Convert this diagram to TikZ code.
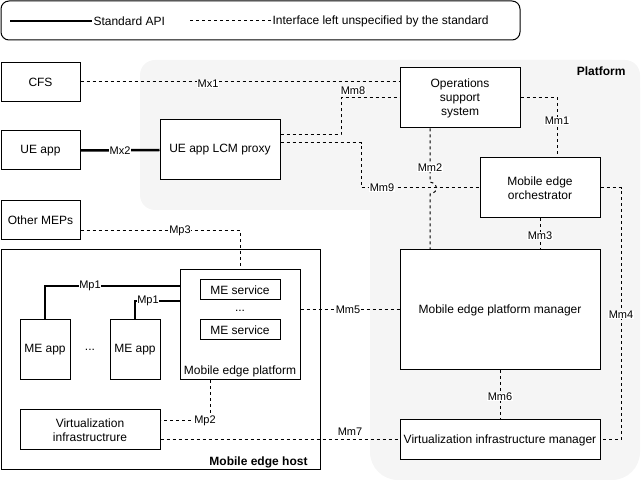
\documentclass[tikz,border=0pt]{standalone}
\usepackage{fontspec}
\setmainfont{Liberation Sans}
\usepackage{xcolor}
\usepackage{tikz}
\definecolor{platformgray}{RGB}{245, 245, 245}

\begin{document}
\begin{tikzpicture}[x=1pt, y=-1pt, line width=1pt,
            box/.style = {draw, fill=white, inner sep=0pt, align=center, font=\fontsize{12}{14}\selectfont},
            txt/.style = {inner sep=1pt, align=center, font=\fontsize{12}{14}\selectfont},
            lbl/.style = {fill=white, inner sep=0.5pt, font=\fontsize{11}{12}\selectfont},
            api/.style = {line width=2.5pt},
          iface/.style = {dash pattern=on 3pt off 3pt}]
        \useasboundingbox (0,0) rectangle (641,481);
        % platform area
        \fill[platformgray, rounded corners=15] (140,60) rectangle (640,210);
        \fill[platformgray, rounded corners=28] (370,60) rectangle (640,480);
        \node[txt, anchor=east, font=\fontsize{12}{14}\selectfont\bfseries] (platform) at (627,71) {Platform};
        % legend
        \node[draw, rounded corners=8, minimum width=519, minimum height=39] (legend) at (260.5,20.5) {};
        \node[txt, anchor=west] (stdapi) at (92,21) {Standard API};
        \node[txt, anchor=west] (unspec) at (271,21) {Interface left unspecified by the standard};
        \coordinate (stdstart) at (10,21);
        \coordinate (unspecstart) at (190,21);
        \draw[api] (stdstart) -- (stdapi.west);
        \draw[iface] (unspecstart) -- (unspec.west);
        % outside boxes
        \node[box, minimum width=79, minimum height=39] (cfs) at (40.5,82) {CFS};
        \node[box, minimum width=79, minimum height=39] (ueapp) at (40.5,150.5) {UE app};
        \node[box, minimum width=79, minimum height=39] (othermeps) at (40.5,220.5) {Other MEPs};
        % platform boxes
        \node[box, minimum width=120, minimum height=60] (lcm) at (220,150) {UE app LCM proxy};
        \node[box, minimum width=120, minimum height=60] (oss) at (460,98) {Operations\\support\\system};
        \node[box, minimum width=120, minimum height=60] (orch) at (540,188) {Mobile edge\\orchestrator};
        \node[box, minimum width=200, minimum height=120] (mepm) at (500,310) {Mobile edge platform manager};
        \node[box, minimum width=200, minimum height=40] (vim) at (500,440) {Virtualization infrastructure manager};
        % mobile edge host
        \node[box, minimum width=319, minimum height=220] (host) at (160.5,360) {};
        \node[txt, anchor=east, font=\fontsize{12}{14}\selectfont\bfseries] (hostname) at (309,462) {Mobile edge host};
        \node[box, minimum width=120, minimum height=110] (mep) at (240,325) {};
        \node[txt] (mepname) at (240,371) {Mobile edge platform};
        \node[box, minimum width=80, minimum height=20] (service1) at (240,290) {ME service};
        \node[txt] (servicedots) at (240,311) {...};
        \node[box, minimum width=80, minimum height=20] (service2) at (240,330) {ME service};
        \node[box, minimum width=50, minimum height=60] (app1) at (45,350) {ME app};
        \node[txt] (appdots) at (90,350) {...};
        \node[box, minimum width=50, minimum height=60] (app2) at (135,350) {ME app};
        \node[box, minimum width=140, minimum height=40] (vi) at (90,430) {Virtualization\\infrastructrure};
        % corners of the connectors
        \coordinate (c8) at (341,135);
        \coordinate (c9) at (361,143);
        \coordinate (c1) at (557,98);
        \coordinate (c4) at (621,188);
        \coordinate (hopa) at (430,182);
        \coordinate (hopb) at (430,194);
        \coordinate (p3) at (240,231);
        \coordinate (p1a) at (45,286);
        \coordinate (p1b) at (135,301);
        \coordinate (p2) at (210,421);
        % connectors
        \draw[iface] (cfs.east) -- (cfs.east -| oss.west);
        \draw[api] (ueapp.east) -- (lcm.west);
        \draw[iface] (lcm.east |- c8) -- (c8) -- (c8 |- oss.west) -- (oss.west);
        \draw[iface] (lcm.east |- c9) -- (c9) -- (c9 |- orch.west) -- (orch.west);
        \draw[iface] (oss.east) -- (c1) -- (c1 |- orch.north);
        \draw[iface] (oss.south -| hopa) -- (hopa) .. controls (439,184) and (439,192) .. (hopb) -- (hopb |- mepm.north);
        \draw[iface] (orch.south) -- (orch.south |- mepm.north);
        \draw[iface] (orch.east) -- (c4) -- (c4 |- vim.east) -- (vim.east);
        \draw[iface] (mep.east |- mepm.west) -- (mepm.west);
        \draw[iface] (mepm.south) -- (vim.north);
        \draw[iface] (vi.east |- vim.west) -- (vim.west);
        \draw[iface] (othermeps.east |- p3) -- (p3) -- (mep.north);
        \draw[api] (mep.west |- p1a) -- (p1a) -- (app1.north);
        \draw[api] (mep.west |- p1b) -- (p1b) -- (app2.north);
        \draw[iface] (mep.south -| p2) -- (p2) -- (p2 -| vi.east);
        % interface names
        \node[lbl] (mx1) at (208,84) {Mx1};
        \node[lbl] (mx2) at (120,150.5) {Mx2};
        \node[lbl] (mm8) at (353,91) {Mm8};
        \node[lbl] (mm9) at (382,188) {Mm9};
        \node[lbl] (mm1) at (557,121) {Mm1};
        \node[lbl] (mm2) at (430,168) {Mm2};
        \node[lbl] (mm3) at (540,236) {Mm3};
        \node[lbl] (mm4) at (621,315) {Mm4};
        \node[lbl] (mm5) at (348,310) {Mm5};
        \node[lbl] (mm6) at (500,397) {Mm6};
        \node[lbl] (mm7) at (350,432) {Mm7};
        \node[lbl] (mp1a) at (90,286) {Mp1};
        \node[lbl] (mp1b) at (148,301) {Mp1};
        \node[lbl] (mp2) at (205,421) {Mp2};
        \node[lbl] (mp3) at (180,231) {Mp3};
    \end{tikzpicture}
\end{document}
